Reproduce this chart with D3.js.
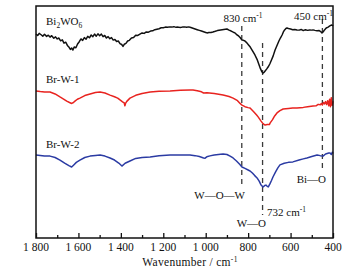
<!DOCTYPE html>
<html>
<head>
<meta charset="utf-8">
<script src="https://cdn.jsdelivr.net/npm/d3@7"></script>
<style>
body { margin: 0; background: #fff; }
</style>
</head>
<body>
<script>
var width = 361;
var height = 276;
var margin = {top: 6, right: 28, bottom: 38, left: 36};

// wavenumber (cm-1), transmittance (a.u.)
var bi2wo6 = [
  [1800,87.9],[1792,87.3],[1785,88.2],[1776,87.6],[1768,87.0],[1760,87.8],[1750,86.9],[1742,87.4],
  [1734,86.6],[1726,87.2],[1716,86.1],[1708,86.7],[1700,85.8],[1692,86.2],[1684,85.0],[1676,85.4],
  [1668,84.0],[1660,84.4],[1652,83.0],[1644,82.2],[1638,81.3],[1632,81.9],[1626,81.0],[1620,82.3],
  [1612,82.0],[1604,83.6],[1596,84.6],[1588,85.8],[1580,85.2],[1572,86.4],[1564,85.7],[1556,86.9],
  [1548,86.3],[1540,87.5],[1532,86.8],[1524,87.9],[1516,87.0],[1508,88.0],[1500,87.2],[1492,87.9],
  [1484,86.8],[1476,87.3],[1468,86.2],[1460,86.8],[1452,85.9],[1444,86.4],[1436,85.3],[1428,85.6],
  [1420,84.7],[1412,84.9],[1404,83.8],[1396,83.4],[1390,82.6],[1384,83.5],[1376,83.9],[1368,84.9],
  [1360,85.2],[1350,86.2],[1340,86.4],[1330,87.4],[1320,87.3],[1310,87.9],[1300,88.4],[1290,88.2],
  [1280,88.8],[1270,88.7],[1260,89.2],[1250,89.3],[1240,89.8],[1230,90.0],[1220,90.2],[1210,90.6],
  [1200,90.6],[1190,90.9],[1180,90.8],[1170,91.0],[1160,90.9],[1150,91.1],[1140,90.8],[1130,90.9],
  [1120,90.7],[1110,90.9],[1100,91.0],[1090,90.8],[1080,91.0],[1070,90.7],[1060,90.4],[1050,90.1],
  [1040,89.8],[1030,89.5],[1020,89.2],[1010,88.9],[1000,88.6],[994,88.4],[985,88.6],[975,88.6],
  [966,88.8],[955,89.1],[945,89.4],[930,89.7],[915,89.9],[900,90.1],[890,89.6],[880,89.2],
  [870,88.7],[862,88.4],[852,87.5],[845,87.1],[838,86.4],[829,85.3],[822,85.2],[815,84.9],
  [806,84.1],[798,83.2],[790,82.3],[780,80.8],[768,78.9],[758,77.0],[750,75.0],[742,73.0],
  [736,71.8],[730,71.1],[725,71.4],[720,72.0],[713,72.8],[706,73.7],[698,75.0],[690,76.7],
  [682,78.5],[673,81.0],[664,83.0],[655,84.9],[648,86.2],[640,87.5],[634,88.8],[628,89.7],
  [622,90.3],[617,90.5],[610,90.3],[600,90.1],[590,89.8],[580,89.9],[570,89.7],[560,89.6],
  [550,89.9],[540,89.4],[530,89.8],[520,89.5],[510,89.7],[500,89.6],[494,89.7],[485,89.5],
  [475,89.3],[465,89.4],[458,89.0],[452,88.4],[446,88.9],[440,89.7],[432,90.5],[423,90.9],
  [415,91.4],[408,91.8],[402,91.6],[400,91.8]
];

var brW1 = [
  [1800,63.4],[1780,63.1],[1760,62.9],[1734,62.9],[1710,62.1],[1687,60.8],[1670,59.9],[1655,59.0],
  [1642,58.4],[1632,58.0],[1625,58.3],[1615,59.1],[1605,59.8],[1593,60.3],[1570,61.4],[1545,62.1],
  [1520,62.7],[1498,62.9],[1475,62.5],[1451,61.6],[1430,60.9],[1415,60.3],[1404,59.5],[1392,58.7],
  [1384,58.2],[1381,57.0],[1378,58.0],[1372,58.9],[1357,60.3],[1330,61.5],[1300,62.3],[1262,62.9],
  [1220,63.3],[1168,63.4],[1120,63.7],[1074,63.8],[1060,63.8],[1040,63.5],[1020,63.0],[1010,62.5],
  [994,62.6],[960,62.3],[918,61.6],[890,61.0],[871,60.3],[850,59.2],[838,58.0],[829,57.3],
  [815,56.6],[800,56.2],[791,56.0],[775,54.5],[760,53.0],[753,52.2],[740,50.5],[730,49.3],
  [720,48.7],[710,48.9],[700,48.9],[696,49.6],[685,51.0],[675,52.6],[664,53.9],[650,54.9],
  [635,55.6],[610,55.8],[590,56.0],[570,56.0],[540,56.3],[520,56.6],[494,56.9],[480,57.0],
  [470,57.6],[460,57.4],[455,58.0],[450,57.3],[445,58.4],[440,57.8],[435,58.8],[430,57.5],
  [425,59.2],[420,57.0],[416,59.8],[412,56.6],[408,60.5],[404,57.2],[400,59.0]
];

var brW2 = [
  [1800,35.8],[1780,35.6],[1760,35.3],[1734,35.3],[1710,34.7],[1687,33.6],[1665,32.3],[1645,31.2],
  [1632,30.6],[1622,31.5],[1610,32.6],[1593,33.6],[1570,34.7],[1545,35.3],[1520,35.6],[1498,35.8],
  [1475,35.3],[1451,34.5],[1430,33.6],[1410,32.3],[1395,31.0],[1380,32.2],[1357,33.2],[1330,34.3],
  [1300,34.7],[1262,34.9],[1220,35.5],[1168,35.8],[1120,35.8],[1074,35.8],[1050,35.5],[1030,35.1],
  [1010,34.5],[1003,34.4],[995,35.0],[980,35.4],[960,35.8],[930,36.1],[918,36.2],[900,36.0],
  [885,35.3],[871,34.5],[855,33.2],[840,31.8],[829,30.6],[815,30.0],[800,29.3],[791,28.9],
  [780,28.0],[770,27.0],[758,25.9],[748,24.5],[740,23.0],[730,22.0],[722,22.6],[716,22.8],
  [710,22.3],[705,22.0],[698,23.2],[690,24.8],[683,26.3],[670,28.6],[660,30.2],[650,31.5],
  [630,32.2],[610,32.6],[589,32.8],[560,33.6],[540,34.1],[523,34.5],[500,35.1],[475,35.8],
  [460,35.5],[447,35.3],[435,36.2],[420,36.6],[414,36.6],[408,36.0],[403,37.0],[400,36.4]
];

var seriesNames = ["Bi2WO6", "Br-W-1", "Br-W-2"];
var seriesColors = ["#111111", "#e8231f", "#2b3ba3"];

// marked bands: wavenumber and vertical extent of the dashed guide
var bandWn = [830, 732, 450];
var bandTop = [91.4, 84.1, 94.4];
var bandBottom = [22.0, 9.9, 29.3];

var majorTicks = [1800, 1600, 1400, 1200, 1000, 800, 600, 400];
var minorTicks = [1700, 1500, 1300, 1100, 900, 700, 500];
var tickLabels = ["1 800", "1 600", "1 400", "1 200", "1 000", "800", "600", "400"];

var svg = d3.select("body")
  .append("svg")
  .attr("width", width)
  .attr("height", height)
  .attr("font-family", "'Liberation Serif', 'DejaVu Serif', serif");

var x = d3.scaleLinear()
  .domain([1800, 400])
  .range([margin.left, width - margin.right]);

var y = d3.scaleLinear()
  .domain([0, 100])
  .range([height - margin.bottom, margin.top]);

var line = d3.line()
  .x(function(d) { return x(d[0]); })
  .y(function(d) { return y(d[1]); });

// dashed guides
svg.selectAll("line.band")
  .data(bandWn)
  .enter()
  .append("line")
  .attr("class", "band")
  .attr("x1", function(d) { return x(d); })
  .attr("x2", function(d) { return x(d); })
  .attr("y1", function(d, i) { return y(bandTop[i]); })
  .attr("y2", function(d, i) { return y(bandBottom[i]); })
  .style("stroke", "#3a3a3a")
  .style("stroke-width", 1.3)
  .style("stroke-dasharray", "5,4");

// spectra
svg.selectAll("path.spec")
  .data([bi2wo6, brW1, brW2])
  .enter()
  .append("path")
  .attr("class", "spec")
  .attr("d", line)
  .style("fill", "none")
  .style("stroke", function(d, i) { return seriesColors[i]; })
  .style("stroke-width", 1.5)
  .style("stroke-linejoin", "round");

// frame
svg.append("rect")
  .attr("x", margin.left)
  .attr("y", margin.top)
  .attr("width", width - margin.left - margin.right)
  .attr("height", height - margin.top - margin.bottom)
  .style("fill", "none")
  .style("stroke", "#111")
  .style("stroke-width", 1.5);

// inward ticks on the bottom axis
var xAxis = d3.axisTop(x)
  .tickValues(majorTicks)
  .tickSize(5)
  .tickFormat("");
var xAxisMinor = d3.axisTop(x)
  .tickValues(minorTicks)
  .tickSize(3)
  .tickFormat("");

[xAxis, xAxisMinor].forEach(function(ax) {
  var g = svg.append("g")
    .attr("transform", "translate(0," + (height - margin.bottom) + ")")
    .call(ax);
  g.select(".domain").remove();
  g.selectAll(".tick line").style("stroke", "#111").style("stroke-width", 1.3);
});

svg.selectAll("text.tick")
  .data(majorTicks)
  .enter()
  .append("text")
  .attr("class", "tick")
  .attr("x", function(d) { return x(d); })
  .attr("y", 251)
  .attr("text-anchor", "middle")
  .attr("font-size", "11.5px")
  .attr("fill", "#111")
  .text(function(d, i) { return tickLabels[i]; });

// axis title
var title = svg.append("text")
  .attr("x", 190)
  .attr("y", 266)
  .attr("text-anchor", "middle")
  .attr("font-size", "11.5px")
  .attr("fill", "#111")
  .attr("letter-spacing", "0.3px");
title.append("tspan").text("Wavenumber / cm");
title.append("tspan").attr("font-size", "7.5px").attr("dy", -4.5).text("-1");

// series labels
var lab0 = svg.append("text").attr("x", 46).attr("y", 25).attr("font-size", "11px").attr("fill", "#111");
lab0.append("tspan").text("Bi");
lab0.append("tspan").attr("font-size", "7.5px").attr("dy", 3).text("2");
lab0.append("tspan").attr("dy", -3).text("WO");
lab0.append("tspan").attr("font-size", "7.5px").attr("dy", 3).text("6");

svg.append("text").attr("x", 46).attr("y", 83).attr("font-size", "11px").attr("fill", "#111").text(seriesNames[1]);
svg.append("text").attr("x", 46).attr("y", 148).attr("font-size", "11px").attr("fill", "#111").text(seriesNames[2]);

// band annotations
function wavenum(sel, label) {
  sel.attr("fill", "#111");
  sel.append("tspan").text(label + " cm");
  sel.append("tspan").attr("font-size", "7.5px").attr("dy", -4.5).text("-1");
}
wavenum(svg.append("text").attr("x", 243).attr("y", 22).attr("text-anchor", "middle").attr("font-size", "11px"), "830");
wavenum(svg.append("text").attr("x", 333).attr("y", 20).attr("text-anchor", "end").attr("font-size", "11px"), "450");
wavenum(svg.append("text").attr("x", 267).attr("y", 216).attr("font-size", "11px"), "732");

svg.append("text").attr("x", 245).attr("y", 199).attr("text-anchor", "end").attr("font-size", "11px").attr("fill", "#111").text("W—O—W");
svg.append("text").attr("x", 266).attr("y", 227).attr("text-anchor", "end").attr("font-size", "11px").attr("fill", "#111").text("W—O");
svg.append("text").attr("x", 326).attr("y", 183).attr("text-anchor", "end").attr("font-size", "11px").attr("fill", "#111").text("Bi—O");
</script>
</body>
</html>
